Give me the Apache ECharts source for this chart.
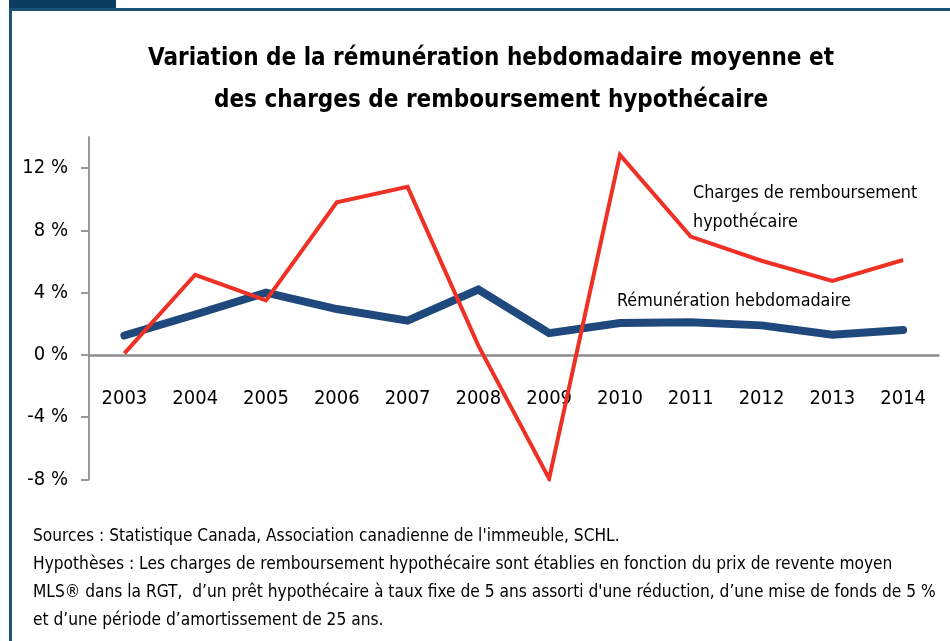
<!DOCTYPE html>
<html>
<head>
<meta charset="utf-8">
<script src="https://cdn.jsdelivr.net/npm/echarts@6/dist/echarts.min.js"></script>
<style>
html,body{margin:0;padding:0;background:#fff;}
#chart{width:950px;height:641px;}
</style>
</head>
<body>
<div id="chart"></div>
<script>
const years = ['2003','2004','2005','2006','2007','2008','2009','2010','2011','2012','2013','2014'];
const remuneration = [1.25, 2.6, 4.0, 2.95, 2.2, 4.2, 1.4, 2.05, 2.1, 1.9, 1.3, 1.6];
const charges = [0.1, 5.15, 3.5, 9.8, 10.8, 0.6, -7.95, 12.85, 7.6, 6.05, 4.75, 6.1];
const yTicks = [-8, -4, 0, 4, 8, 12];
const titleText = 'Variation de la rémunération hebdomadaire moyenne et\ndes charges de remboursement hypothécaire';
const labelCharges = 'Charges de remboursement\nhypothécaire';
const labelRemun = 'Rémunération hebdomadaire';
const notes = [
  'Sources : Statistique Canada, Association canadienne de l\'immeuble, SCHL.',
  'Hypothèses : Les charges de remboursement hypothécaire sont établies en fonction du prix de revente moyen',
  'MLS® dans la RGT,  d’un prêt hypothécaire à taux fixe de 5 ans assorti d\'une réduction, d’une mise de fonds de 5 %',
  'et d’une période d’amortissement de 25 ans.'
];

const FONT = "'DejaVu Sans Condensed', Lato, sans-serif";
const chart = echarts.init(document.getElementById('chart'), null, {renderer: 'canvas'});
chart.setOption({
  animation: false,
  backgroundColor: '#ffffff',
  textStyle: {fontFamily: FONT},
  title: {
    text: titleText,
    left: 486, top: 33, textAlign: 'center',
    textStyle: {fontFamily: FONT, fontWeight: 'bold', fontSize: 24, lineHeight: 42, color: '#000'}
  },
  grid: {left: 89, right: 11.5, top: 137, bottom: 161.5, containLabel: false},
  xAxis: {
    type: 'category',
    data: years,
    boundaryGap: true,
    axisLine: {onZero: true, lineStyle: {color: '#8c8c8c', width: 2.5}},
    axisTick: {show: false},
    axisLabel: {margin: -91, fontSize: 20, color: '#000', fontFamily: FONT},
    splitLine: {show: false}
  },
  yAxis: {
    type: 'value',
    min: -8, max: 14,
    axisLine: {show: true, onZero: false, lineStyle: {color: '#999', width: 2}},
    axisTick: {show: true, length: 8, inside: false, customValues: yTicks, lineStyle: {color: '#999', width: 2}},
    axisLabel: {margin: 21, fontSize: 20, color: '#000', fontFamily: FONT, customValues: yTicks,
      formatter: v => (v + ' %')},
    splitLine: {show: false}
  },
  series: [
    {
      name: labelRemun, type: 'line', data: remuneration,
      symbol: 'none', lineStyle: {color: '#1f497d', width: 8, cap: 'round', join: 'miter'}, z: 2
    },
    {
      name: 'Charges', type: 'line', data: charges,
      symbol: 'none', lineStyle: {color: '#ee3124', width: 4, join: 'miter'}, z: 3
    }
  ],
  graphic: [
    {type: 'rect', shape: {x: 9, y: 0, width: 107, height: 8}, style: {fill: '#0c3d5f'}},
    {type: 'rect', shape: {x: 9, y: 8, width: 941, height: 3}, style: {fill: '#1d5375'}},
    {type: 'rect', shape: {x: 9, y: 8, width: 3, height: 633}, style: {fill: '#1d5375'}},
    {type: 'text', left: 693, top: 179, style: {text: labelCharges, font: "17.8px " + FONT, fill: '#000', lineHeight: 29}},
    {type: 'text', left: 617, top: 292, style: {text: labelRemun, font: "17.8px " + FONT, fill: '#000'}},
    {type: 'text', left: 33, top: 523, style: {text: notes.join('\n'), font: "17.2px " + FONT, fill: '#000', lineHeight: 28}}
  ]
});
</script>
</body>
</html>
